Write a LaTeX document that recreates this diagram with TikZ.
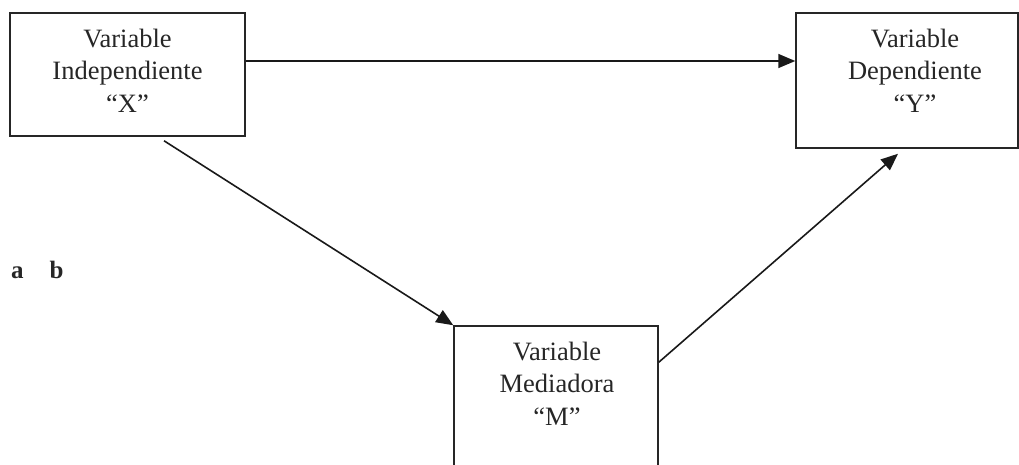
\documentclass[tikz,border=0pt]{standalone}
\usepackage{fontspec}
\setmainfont{Liberation Serif}
\usetikzlibrary{arrows.meta}
\begin{document}
\begin{tikzpicture}[x=1pt,y=-1pt,
  box/.style={draw=black!85, line width=1.5pt, inner sep=0pt, rectangle},
  lbl/.style={align=center, inner sep=0pt, text=black!85, font=\fontsize{26.5}{32.5}\selectfont},
  arr/.style={draw=black!90, line width=1.6pt, -{Triangle[length=17pt,width=14pt]}}]
\clip (0,0) rectangle (1019,464);
\node[box, minimum width=235pt, minimum height=123pt] (X) at (127.5,74.5) {};
\node[box, minimum width=222pt, minimum height=135pt] (Y) at (907,80.5) {};
\node[box, minimum width=204pt, minimum height=160pt] (M) at (556,406) {};
\node[lbl, anchor=base] (Xt) at (127.5,112) {Variable\\Independiente\\“X”};
\node[lbl, anchor=base] (Yt) at (915,112) {Variable\\Dependiente\\“Y”};
\node[lbl, anchor=base] (Mt) at (557,425) {Variable\\Mediadora\\“M”};
\node[anchor=base west, inner sep=0pt, text=black!85, font=\fontsize{25}{30}\selectfont\bfseries] (ab) at (11,278) {a\hspace{26pt}b};
\draw[arr] ([yshift=13.5pt]X.east) -- ([yshift=19.5pt]Y.west);
\draw[arr] ([xshift=36.5pt,yshift=-4pt]X.south) -- (M.north west);
\draw[arr] ([yshift=-37pt]M.north east) -- ([xshift=-9pt,yshift=-5pt]Y.south);
\end{tikzpicture}
\end{document}
